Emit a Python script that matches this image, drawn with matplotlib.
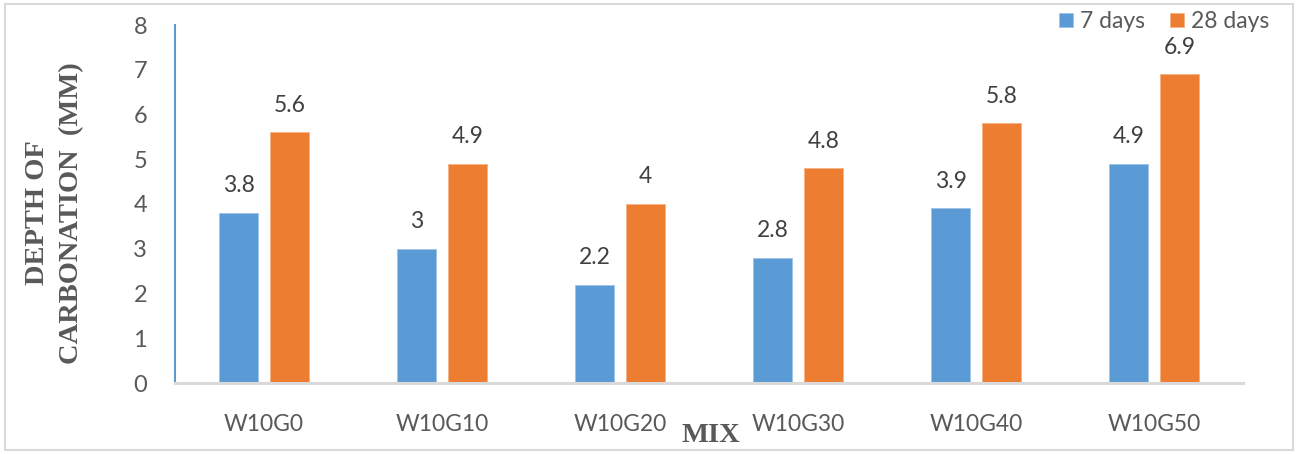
import matplotlib.pyplot as plt
import numpy as np
from matplotlib.patches import Rectangle

mixes = ["W10G0", "W10G10", "W10G20", "W10G30", "W10G40", "W10G50"]
days7 = [3.8, 3.0, 2.2, 2.8, 3.9, 4.9]
days28 = [5.6, 4.9, 4.0, 4.8, 5.8, 6.9]
series_names = ["7 days", "28 days"]

BLUE = "#5B9BD5"
ORANGE = "#ED7D31"
GREY_TXT = "#595959"
SANS = ["Lato", "DejaVu Sans"]
SERIF = ["Liberation Serif", "DejaVu Serif"]

fig = plt.figure(figsize=(12.97, 4.54), dpi=100)
ax = fig.add_axes([175 / 1297, 1 - 383 / 454, 1068 / 1297, 358 / 454])

x = np.arange(len(mixes))
w = 0.22
off = 0.143
b1 = ax.bar(x - off, days7, w, color=BLUE, edgecolor="#9DC3E6", linewidth=0.6, label=series_names[0])
b2 = ax.bar(x + off, days28, w, color=ORANGE, edgecolor="#F4B183", linewidth=0.6, label=series_names[1])

for bars, vals in ((b1, days7), (b2, days28)):
    for rect, v in zip(bars, vals):
        txt = f"{v:g}"
        ax.annotate(txt, (rect.get_x() + rect.get_width() / 2, v),
                    xytext=(0, 12), textcoords="offset points",
                    ha="center", va="bottom", fontsize=16.5, color="#404040", family=SANS)

ax.set_xlim(-0.5, len(mixes) - 0.5)
ax.set_ylim(0, 8)
ax.set_yticks(range(0, 9))
ax.set_xticks(x)
ax.set_xticklabels(mixes)
ax.tick_params(axis="y", length=0, pad=20, labelsize=17, labelcolor=GREY_TXT)
ax.tick_params(axis="x", length=0, pad=22, labelsize=16.5, labelcolor=GREY_TXT)
for lbl in ax.get_xticklabels() + ax.get_yticklabels():
    lbl.set_family(SANS)

for s in ("top", "right"):
    ax.spines[s].set_visible(False)
ax.spines["left"].set_color(BLUE)
ax.spines["left"].set_linewidth(1.5)
ax.spines["bottom"].set_color("#D9D9D9")
ax.spines["bottom"].set_linewidth(2.2)

# axis titles
fig.text(37 / 1297, 1 - 213 / 454, "DEPTH OF", rotation=90, ha="center", va="center",
         fontsize=20.5, fontweight="bold", color=GREY_TXT, family=SERIF)
fig.text(72 / 1297, 1 - 213 / 454, "CARBONATION  (MM)", rotation=90, ha="center", va="center",
         fontsize=20.5, fontweight="bold", color=GREY_TXT, family=SERIF)
fig.text(711 / 1297, 1 - 436 / 454, "MIX", ha="center", va="center",
         fontsize=20.5, fontweight="bold", color=GREY_TXT, family=SERIF)

leg = ax.legend(loc="upper right", bbox_to_anchor=(1.033, 1.065), ncol=2, frameon=False,
                fontsize=16.5, handlelength=0.6, handleheight=0.6, handletextpad=0.3,
                columnspacing=1.1, borderaxespad=0)
for t in leg.get_texts():
    t.set_color(GREY_TXT)
    t.set_family(SANS)

# outer frame
fig.patches.append(Rectangle((5 / 1297, 4 / 454), 1288 / 1297, 446 / 454, transform=fig.transFigure,
                             fill=False, edgecolor="#D9D9D9", linewidth=1.5))

fig.savefig("out.png", dpi=100)
